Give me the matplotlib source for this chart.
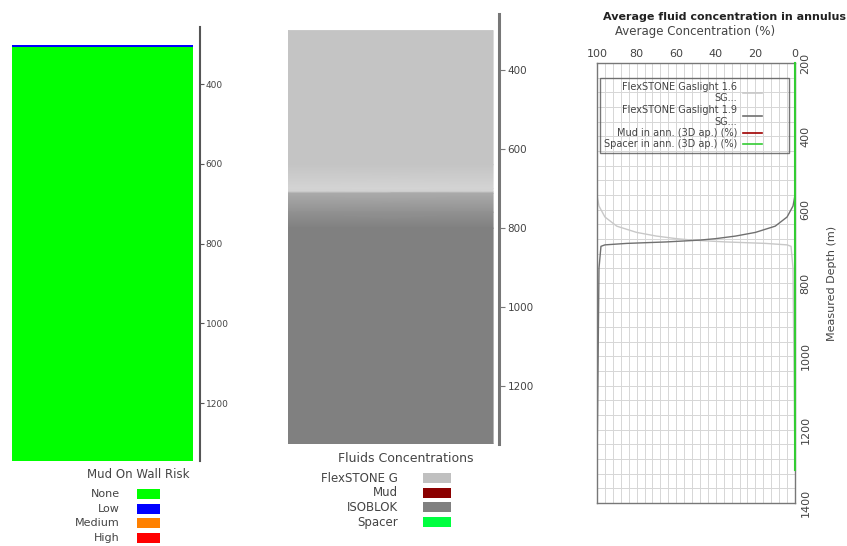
import matplotlib
matplotlib.use("Agg")
import matplotlib.pyplot as plt
import numpy as np
from matplotlib.patches import Rectangle
from matplotlib.lines import Line2D

# %%
# Data
# -------------------------

# mud on wall risk along the hole (depth intervals, m)
risk_top = [302, 307]
risk_bottom = [307, 1345]
risk_level = ["Low", "None"]
risk_names = ["None", "Low", "Medium", "High"]
risk_colors = ["#00ff00", "#0000ff", "#ff8000", "#ff0000"]

# fluid column: grey level of the blended fluids vs depth
column_depth = [300, 640, 700, 708, 712, 760, 800, 1347]
column_grey = [196, 196, 212, 208, 170, 145, 128, 128]
fluid_names = ["FlexSTONE G", "Mud", "ISOBLOK", "Spacer"]
fluid_colors = ["#c0c0c0", "#8b0000", "#808080", "#00ff40"]

# average concentration in annulus (%)
conc_depth = [200, 560, 590, 620, 645, 662, 672, 679, 683, 688, 692, 696, 700, 760, 1310]
gaslight_16 = [100, 100, 99, 96, 90, 80, 70, 60, 52, 35, 15, 4, 2, 1, 0]
gaslight_19 = [0, 0, 1, 4, 10, 20, 30, 40, 48, 65, 85, 96, 98, 99, 100]
ann_depth = [200, 1310]
mud_ann = [0, 0]
spacer_ann = [0, 0]
conc_labels = ["FlexSTONE Gaslight 1.6\nSG...", "FlexSTONE Gaslight 1.9\nSG...",
               "Mud in ann. (3D ap.) (%)", "Spacer in ann. (3D ap.) (%)"]
conc_colors = ["#c8c8c8", "#707070", "#a00000", "#33cc33"]

W, H = 847, 546
TXT = "#444444"

fig = plt.figure(figsize=(W / 100, H / 100), dpi=100)


def box(x0, y0, x1, y1):
    # pixel box (top-left origin) -> figure fraction rect
    return [x0 / W, 1 - y1 / H, (x1 - x0) / W, (y1 - y0) / H]


# %%
# Mud on wall risk column
# -----------------------
ax_r = fig.add_axes(box(12, 27, 200, 461))
cols = [risk_colors[risk_names.index(l)] for l in risk_level]
ax_r.barh(risk_top, 0.963, height=np.subtract(risk_bottom, risk_top),
          left=0, align="edge", color=cols, linewidth=0)
ax_r.set_xlim(0, 1)
ax_r.set_ylim(1345, 257)
for s in ["left", "top", "bottom"]:
    ax_r.spines[s].set_visible(False)
ax_r.spines["right"].set_color("#555555")
ax_r.spines["right"].set_linewidth(1.5)
ax_r.set_xticks([])
ax_r.yaxis.tick_right()
ax_r.set_yticks(np.arange(400, 1201, 200))
ax_r.tick_params(axis="y", length=3, color="#555555", labelsize=6.5, labelcolor=TXT, pad=1)

# %%
# Fluid concentration column
# --------------------------
ax_f = fig.add_axes(box(288, 14, 499, 444))
yy = np.array(column_depth, dtype=float)
X = np.array([[0.0, 0.972]] * len(yy))
Y = np.column_stack([yy, yy])
C = np.column_stack([column_grey, column_grey]).astype(float)
ax_f.pcolormesh(X, Y, C, shading="gouraud", cmap="gray", vmin=0, vmax=255)
ax_f.set_xlim(0, 1)
ax_f.set_ylim(1347, 258)
for s in ["left", "top", "bottom"]:
    ax_f.spines[s].set_visible(False)
ax_f.spines["right"].set_color("#777777")
ax_f.spines["right"].set_linewidth(2.2)
ax_f.set_xticks([])
ax_f.yaxis.tick_right()
ax_f.set_yticks(np.arange(400, 1201, 200))
ax_f.tick_params(axis="y", length=4, color="#777777", labelsize=7.5, labelcolor=TXT, pad=2)

# %%
# Average fluid concentration in annulus
# --------------------------------------
ax_c = fig.add_axes(box(597, 63, 795, 503))
ax_c.plot(mud_ann, ann_depth, color=conc_colors[2], lw=1.2, zorder=3, clip_on=False)
ax_c.plot(spacer_ann, ann_depth, color=conc_colors[3], lw=1.5, zorder=3, clip_on=False)
ax_c.plot(gaslight_16, conc_depth, color=conc_colors[0], lw=1.0)
ax_c.plot(gaslight_19, conc_depth, color=conc_colors[1], lw=1.0)
ax_c.set_xlim(100, 0)
ax_c.set_ylim(1400, 200)
ax_c.xaxis.tick_top()
ax_c.set_xticks(np.arange(0, 101, 20))
ax_c.set_xticks(np.arange(0, 101, 4), minor=True)
ax_c.set_yticks(np.arange(200, 1401, 200))
ax_c.set_yticks(np.arange(200, 1401, 40), minor=True)
ax_c.grid(which="both", color="#d6d6d6", lw=0.7)
ax_c.set_axisbelow(True)
ax_c.yaxis.tick_right()
ax_c.yaxis.set_label_position("right")
ax_c.tick_params(which="both", length=0)
ax_c.tick_params(axis="x", labelsize=8, labelcolor=TXT, pad=3)
ax_c.tick_params(axis="y", labelsize=8, labelcolor=TXT, pad=4, labelrotation=90)
for t in ax_c.get_yticklabels():
    t.set_va("center")
ax_c.set_ylabel("Measured Depth (m)", fontsize=8, color=TXT, rotation=90, labelpad=12)
for s in ax_c.spines.values():
    s.set_color("#777777")
    s.set_linewidth(1.0)

handles = [Line2D([], [], color=c, lw=1.2) for c in conc_colors]
leg = ax_c.legend(handles, conc_labels,
                  loc="upper left", bbox_to_anchor=(0.015, 0.966, 0.955, 0), mode="expand",
                  borderaxespad=0, markerfirst=False, fontsize=7, frameon=True, fancybox=False,
                  edgecolor="#555555", facecolor="none",
                  labelspacing=0.15, borderpad=0.4, handlelength=2.0, handletextpad=0.6)
leg.get_frame().set_linewidth(1.0)
for t in leg.get_texts():
    t.set_multialignment("right")
    t.set_color(TXT)

# %%
# Texts and legends below the columns (pixel layout)
# --------------------------------------------------
ov = fig.add_axes([0, 0, 1, 1])
ov.set_xlim(0, W)
ov.set_ylim(H, 0)
ov.axis("off")

ov.text(846, 17, "Average fluid concentration in annulus", ha="right", va="center",
        fontsize=8, fontweight="bold", color="#222222")
ov.text(695, 32, "Average Concentration (%)", ha="center", va="center",
        fontsize=8.5, color=TXT)

ov.text(138, 474, "Mud On Wall Risk", ha="center", va="center", fontsize=8.5, color=TXT)
for i, (name, col) in enumerate(zip(risk_names, risk_colors)):
    yc = 494 + 14.7 * i
    ov.add_patch(Rectangle((137, yc - 5), 23, 10, color=col, lw=0))
    ov.text(120, yc, name, ha="right", va="center", fontsize=8, color=TXT)

ov.text(406, 458, "Fluids Concentrations", ha="center", va="center", fontsize=9, color=TXT)
for i, (name, col) in enumerate(zip(fluid_names, fluid_colors)):
    yc = 478 + 14.7 * i
    ov.add_patch(Rectangle((423, yc - 5), 28, 10, color=col, lw=0))
    ov.text(398, yc, name, ha="right", va="center", fontsize=8.5, color=TXT)

fig.savefig("out.png", dpi=100)
